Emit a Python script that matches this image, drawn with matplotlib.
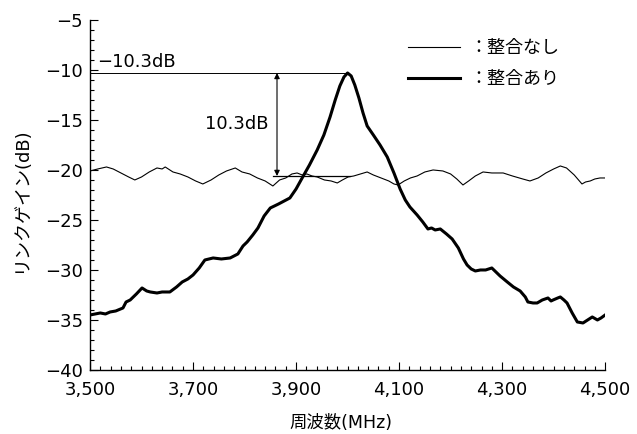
import matplotlib
matplotlib.use("Agg")
import matplotlib.pyplot as plt
from matplotlib.ticker import FixedLocator, MultipleLocator, FuncFormatter

plt.rcParams['font.family'] = ['DejaVu Sans', 'Noto Sans CJK JP']

# link gain without matching network (thin trace)
freq_plain = [3500, 3515, 3532, 3545, 3560, 3575, 3587, 3600, 3615, 3630, 3640, 3646,
              3655, 3661, 3675, 3690, 3705, 3719, 3735, 3750, 3765, 3782, 3795, 3810,
              3825, 3840, 3855, 3868, 3880, 3892, 3902, 3912, 3921, 3931, 3941, 3955,
              3968, 3980, 3990, 4001, 4012, 4025, 4038, 4050, 4065, 4080, 4090, 4098,
              4110, 4122, 4135, 4150, 4166, 4185, 4200, 4212, 4224, 4235, 4248, 4263,
              4280, 4302, 4320, 4340, 4354, 4370, 4385, 4400, 4413, 4425, 4440, 4455,
              4462, 4471, 4480, 4490, 4500]
gain_plain = [-20.1, -19.9, -19.7, -19.9, -20.3, -20.7, -21.0, -20.7, -20.2, -19.8, -19.9, -19.7,
              -20.0, -20.2, -20.4, -20.7, -21.1, -21.4, -21.0, -20.5, -20.1, -19.8, -20.2, -20.4,
              -20.8, -21.1, -21.6, -21.0, -20.8, -20.4, -20.3, -20.5, -20.4, -20.6, -20.7, -21.0,
              -21.1, -21.3, -21.0, -20.7, -20.6, -20.4, -20.2, -20.5, -20.8, -21.1, -21.4, -21.5,
              -21.1, -20.8, -20.6, -20.2, -20.0, -20.1, -20.4, -20.9, -21.5, -21.1, -20.6, -20.2,
              -20.3, -20.3, -20.6, -20.9, -21.1, -20.8, -20.3, -19.9, -19.6, -19.8, -20.5, -21.4,
              -21.2, -21.1, -20.9, -20.8, -20.8]

# link gain with matching network (thick trace)
freq_match = [3500, 3510, 3520, 3530, 3539, 3550, 3564, 3570, 3578, 3590, 3601, 3610,
              3617, 3630, 3640, 3655, 3668, 3679, 3690, 3700, 3712, 3723, 3739, 3755,
              3772, 3787, 3797, 3805, 3816, 3826, 3838, 3850, 3866, 3888, 3900, 3914,
              3926, 3941, 3954, 3966, 3976, 3985, 3993, 4000, 4007, 4014, 4022, 4030,
              4038, 4050, 4063, 4077, 4090, 4102, 4112, 4121, 4135, 4146, 4156, 4163,
              4170, 4180, 4192, 4203, 4215, 4225, 4232, 4240, 4248, 4258, 4268, 4280,
              4290, 4296, 4310, 4322, 4335, 4345, 4350, 4360, 4368, 4378, 4389, 4395,
              4399, 4408, 4413, 4420, 4426, 4436, 4446, 4457, 4466, 4475, 4485, 4492, 4500]
gain_match = [-34.5, -34.4, -34.3, -34.4, -34.2, -34.1, -33.8, -33.2, -33.0, -32.4, -31.8, -32.1,
              -32.2, -32.3, -32.2, -32.2, -31.7, -31.2, -30.9, -30.5, -29.8, -29.0, -28.8, -28.9,
              -28.8, -28.4, -27.6, -27.2, -26.5, -25.8, -24.6, -23.8, -23.4, -22.8, -21.9, -20.6,
              -19.5, -18.0, -16.5, -14.7, -13.0, -11.6, -10.7, -10.3, -10.6, -11.5, -12.8, -14.3,
              -15.6, -16.5, -17.5, -18.7, -20.3, -21.9, -23.0, -23.7, -24.5, -25.2, -25.9, -25.8,
              -26.0, -25.9, -26.4, -26.9, -27.8, -28.9, -29.5, -29.9, -30.1, -30.0, -30.0, -29.8,
              -30.3, -30.6, -31.2, -31.7, -32.1, -32.7, -33.2, -33.3, -33.3, -33.0, -32.8, -33.1,
              -33.0, -32.8, -32.7, -33.0, -33.3, -34.3, -35.2, -35.3, -35.0, -34.7, -35.0, -34.8, -34.5]

x_ticks = [3500, 3700, 3900, 4100, 4300, 4500]
y_ticks = [-40, -35, -30, -25, -20, -15, -10, -5]

peak_freq = 4000
peak_gain = -10.3
improvement = 10.3
base_gain = peak_gain - improvement

fig = plt.figure(figsize=(6.37, 4.34), dpi=100)
ax = fig.add_axes([0.1413, 0.1475, 0.8087, 0.8065])

ax.plot(freq_plain, gain_plain, color='black', lw=0.8, label='：整合なし')
ax.plot(freq_match, gain_match, color='black', lw=2.2, label='：整合あり')

# peak level and improvement marker
ax.plot([3500, peak_freq], [peak_gain, peak_gain], color='black', lw=0.7)
ax.plot([3855, 4005], [base_gain, base_gain], color='black', lw=0.9)
ax.annotate('', xy=(3863, peak_gain), xytext=(3863, base_gain),
            arrowprops=dict(arrowstyle='<|-|>', color='black', lw=0.8,
                            mutation_scale=8, shrinkA=0, shrinkB=0))
ax.text(3513, peak_gain + 1.1, '−10.3dB', fontsize=13, ha='left', va='center')
ax.text(3847, (peak_gain + base_gain) / 2, '10.3dB', fontsize=13, ha='right', va='center')

ax.set_xlim(3500, 4500)
ax.set_ylim(-40, -5)
ax.xaxis.set_major_locator(FixedLocator(x_ticks))
ax.xaxis.set_minor_locator(MultipleLocator(20))
ax.yaxis.set_major_locator(FixedLocator(y_ticks))
ax.yaxis.set_minor_locator(MultipleLocator(1))
ax.xaxis.set_major_formatter(FuncFormatter(lambda v, p: f'{int(v):,}'))
ax.yaxis.set_major_formatter(FuncFormatter(lambda v, p: f'{int(v)}'.replace('-', '−')))
ax.tick_params(which='both', direction='in', width=0.8, labelsize=13, colors='black')
ax.tick_params(axis='x', which='major', length=6, pad=8)
ax.tick_params(axis='y', which='major', length=6, pad=5)
ax.tick_params(which='minor', length=3)
for side in ('top', 'right'):
    ax.spines[side].set_visible(False)
for side in ('left', 'bottom'):
    ax.spines[side].set_linewidth(1.0)

ax.set_xlabel('周波数(MHz)', fontsize=12.5)
ax.set_ylabel('リンクゲイン(dB)', fontsize=13)
ax.xaxis.set_label_coords(0.487, -0.125)
ax.yaxis.set_label_coords(-0.117, 0.485)

ax.legend(loc='upper left', bbox_to_anchor=(0.6175, 0.946), frameon=False,
          fontsize=13, handlelength=2.9, handletextpad=0.5, labelspacing=0.75,
          borderpad=0, borderaxespad=0)

fig.savefig('out.png', dpi=100)
